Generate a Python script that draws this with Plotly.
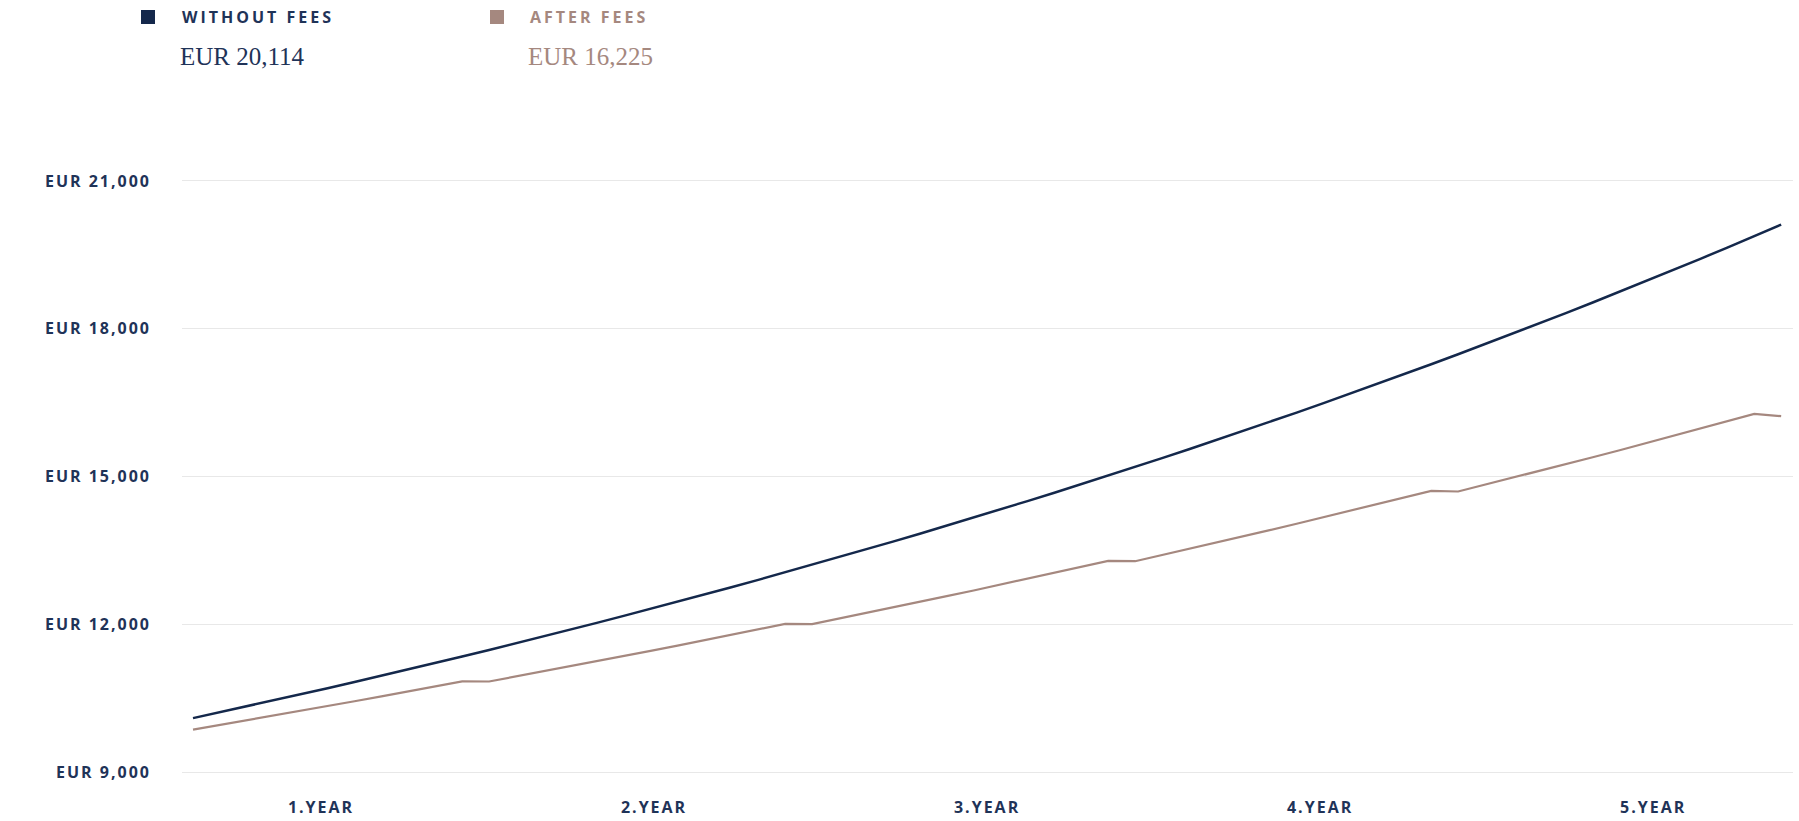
import plotly.graph_objects as go

# ---------------- data ----------------
months = list(range(60))

without_fees = [
    10095, 10214, 10334, 10455, 10578, 10702, 10828, 10955, 11084, 11214,
    11346, 11479, 11614, 11751, 11889, 12029, 12170, 12313, 12458, 12604,
    12752, 12902, 13054, 13207, 13362, 13519, 13678, 13839, 14002, 14166,
    14333, 14501, 14671, 14844, 15018, 15195, 15373, 15554, 15737, 15922,
    16109, 16298, 16490, 16684, 16880, 17078, 17279, 17482, 17687, 17895,
    18105, 18318, 18533, 18751, 18971, 19194, 19420, 19648, 19879, 20114,
]

after_fees = [
    9860, 9954, 10049, 10145, 10241, 10339, 10437, 10537, 10637, 10739,
    10841, 10838, 10939, 11041, 11145, 11249, 11354, 11460, 11567, 11675,
    11784, 11894, 12006, 12002, 12113, 12226, 12339, 12454, 12570, 12686,
    12804, 12923, 13043, 13164, 13287, 13280, 13404, 13529, 13655, 13783,
    13911, 14041, 14172, 14304, 14438, 14572, 14709, 14695, 14832, 14970,
    15109, 15249, 15391, 15534, 15679, 15825, 15972, 16120, 16270, 16225,
]

year_labels = ["1.YEAR", "2.YEAR", "3.YEAR", "4.YEAR", "5.YEAR"]
y_ticks = [9000, 12000, 15000, 18000, 21000]
y_tick_text = ["EUR 9,000", "EUR 12,000", "EUR 15,000", "EUR 18,000", "EUR 21,000"]
series_names = ["WITHOUT FEES", "AFTER FEES"]
series_totals = ["EUR 20,114", "EUR 16,225"]

# ---------------- styling ----------------
NAVY = "#14284b"
TAUPE = "#a5887f"
TEXT_NAVY = "#1f3358"
GRID = "#e8e8e8"
SANS = "Open Sans, sans-serif"
SERIF = "Liberation Serif, DejaVu Serif, serif"

W, H = 1799, 821
# plot area padded by ~2px top/bottom so the edge gridlines are drawn
L, R, T, B = 182, 6, 179, 47
PW, PH = W - L - R, H - T - B
Y_RANGE = [8960, 21040]


def px_x(px):
    return (px - L) / PW


def px_y(py):
    return (H - B - py) / PH


fig = go.Figure()

fig.add_trace(go.Scatter(
    x=months, y=without_fees, mode="lines", name=series_names[0],
    line=dict(color=NAVY, width=2.5), hoverinfo="skip", showlegend=False,
))
fig.add_trace(go.Scatter(
    x=months, y=after_fees, mode="lines", name=series_names[1],
    line=dict(color=TAUPE, width=2.2), hoverinfo="skip", showlegend=False,
))
# invisible helper trace for the year-label axis
fig.add_trace(go.Scatter(
    x=year_labels, y=[None] * len(year_labels), xaxis="x2", mode="markers",
    marker=dict(opacity=0), hoverinfo="skip", showlegend=False,
))

# ---------------- custom legend ----------------
legend_specs = [
    dict(sq=141, text=180, color=NAVY, label_color=TEXT_NAVY, val_color=TEXT_NAVY),
    dict(sq=490, text=528, color=TAUPE, label_color=TAUPE, val_color=TAUPE),
]
annotations = []
shapes = []
for name, total, spec in zip(series_names, series_totals, legend_specs):
    shapes.append(dict(
        type="rect", xref="paper", yref="paper",
        x0=px_x(spec["sq"]), x1=px_x(spec["sq"] + 14),
        y0=px_y(24), y1=px_y(10),
        fillcolor=spec["color"], line=dict(width=0),
    ))
    annotations.append(dict(
        xref="paper", yref="paper", x=px_x(spec["text"]), y=px_y(17),
        xanchor="left", yanchor="middle", align="left", showarrow=False,
        text="<b>" + name + "</b>",
        font=dict(family=SANS, size=16, color=spec["label_color"]),
    ))
    annotations.append(dict(
        xref="paper", yref="paper", x=px_x(spec["text"] - 2), y=px_y(56),
        xanchor="left", yanchor="middle", align="left", showarrow=False,
        text=total,
        font=dict(family=SERIF, size=25, color=spec["val_color"]),
    ))

fig.update_layout(
    width=W, height=H,
    margin=dict(l=L, r=R, t=T, b=B, pad=0, autoexpand=False),
    paper_bgcolor="white", plot_bgcolor="white",
    showlegend=False,
    xaxis=dict(
        range=[-0.409, 59.44], showgrid=False, zeroline=False, automargin=False,
        showticklabels=False, ticks="", showline=False, fixedrange=True,
    ),
    xaxis2=dict(
        overlaying="x", anchor="y", side="bottom", type="category",
        range=[-0.4174, 4.42], showgrid=False, zeroline=False, automargin=False,
        ticks="", showline=False, ticklabelstandoff=22,
        tickfont=dict(family=SANS, size=16, color=TEXT_NAVY, weight="bold"),
    ),
    yaxis=dict(
        range=Y_RANGE, tickmode="array", tickvals=y_ticks, automargin=False,
        ticktext=y_tick_text, showgrid=True, gridcolor=GRID, gridwidth=1,
        zeroline=False, showline=False, ticks="", ticklabelstandoff=30,
        tickfont=dict(family=SANS, size=16, color=TEXT_NAVY, weight="bold"),
        fixedrange=True,
    ),
    annotations=annotations,
    shapes=shapes,
)

post = """
document.body.style.margin='0';
var gd = document.getElementById('{plot_id}');
function spacing(){
  document.querySelectorAll('.ytick text, .xtick text, .x2tick text').forEach(function(t){t.style.letterSpacing='2px';});
  document.querySelectorAll('.annotation-text').forEach(function(t){
    if (t.textContent.indexOf('FEES') >= 0) { t.style.letterSpacing='3px'; }
  });
}
spacing();
gd.on('plotly_afterplot', spacing);
"""

fig.write_html("out.html", config={"displayModeBar": False, "responsive": False},
               post_script=post)
